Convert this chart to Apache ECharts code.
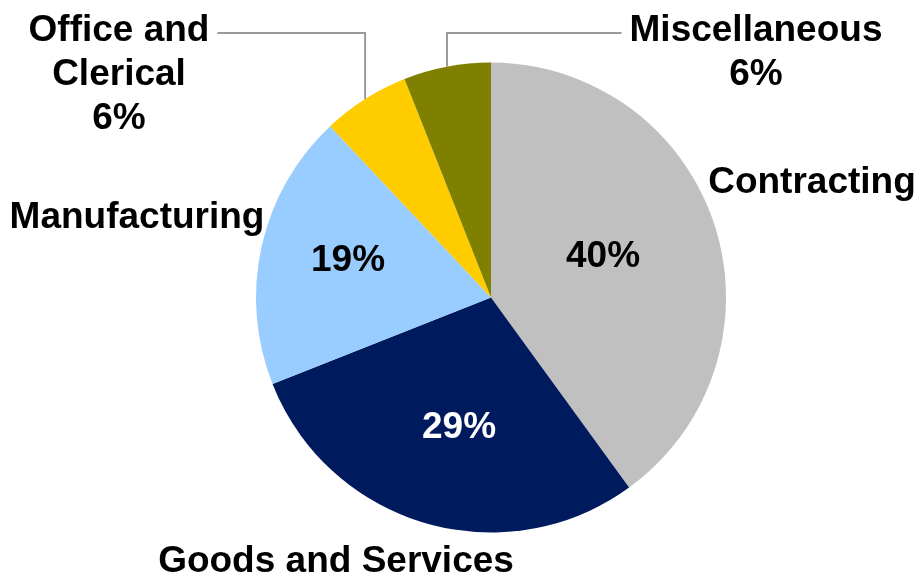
<!DOCTYPE html>
<html>
<head>
<meta charset="utf-8">
<title>Share by category</title>
<script src="https://cdn.jsdelivr.net/npm/echarts@6/dist/echarts.min.js"></script>
<style>
  html, body { margin: 0; padding: 0; background: #ffffff; }
  #chart { width: 922px; height: 575px; }
</style>
</head>
<body>
<div id="chart"></div>
<script>
// Category names (line breaks as shown in the labels) and their shares in percent
const categories = ['Contracting', 'Goods and Services', 'Manufacturing', 'Office and\nClerical', 'Miscellaneous'];
const shares = [40, 29, 19, 6, 6];

// Slice colours, in category order
const sliceColors = ['#C0C0C0', '#001A5E', '#99CCFF', '#FFCC00', '#808000'];

// Which categories show the percentage inside the slice (the others show it beside the name)
const insidePercent = [true, true, true, false, false];
const percentColors = ['#000000', '#ffffff', '#000000', '#000000', '#000000'];

// Label placement (pixel centres of the text blocks)
const percentSpots = [[603, 257], [459, 428], [348, 261], null, null];
const nameSpots = [[812, 183], [336, 562], [137, 218], [119, 74.5], [756, 53]];
const leaderY = 33;     // height of the horizontal part of the leader lines
const leaderGap = 8;    // gap between a leader line and its text

const FONT = '"Liberation Sans", Arial, Helvetica, sans-serif';
const PIE_CENTER = [491, 297.5];
const PIE_RADIUS = 235;

const chart = echarts.init(document.getElementById('chart'), null, { renderer: 'canvas' });

const sliceData = categories.map((name, i) => ({
  name: name,
  value: shares[i],
  itemStyle: { color: sliceColors[i] },
  label: {
    show: insidePercent[i],
    color: percentColors[i]
  }
}));

const nameData = categories.map((name, i) => ({
  name: name,
  value: shares[i],
  labelLine: { show: !insidePercent[i] }
}));

chart.setOption({
  backgroundColor: '#ffffff',
  animation: false,
  series: [
    {
      // the slices, with percentages inside
      type: 'pie',
      center: PIE_CENTER,
      radius: PIE_RADIUS,
      startAngle: 90,
      clockwise: true,
      silent: true,
      emphasis: { disabled: true },
      itemStyle: { borderWidth: 0 },
      label: {
        position: 'inside',
        fontFamily: FONT,
        fontWeight: 'bold',
        fontSize: 37,
        overflow: 'none',
        formatter: p => p.value + '%'
      },
      labelLine: { show: false },
      labelLayout: function (p) {
        const spot = percentSpots[p.dataIndex];
        if (!spot) return {};
        return { x: spot[0], y: spot[1], align: 'center', verticalAlign: 'middle' };
      },
      data: sliceData
    },
    {
      // transparent copy carrying the category names outside the pie
      type: 'pie',
      center: PIE_CENTER,
      radius: PIE_RADIUS,
      startAngle: 90,
      clockwise: true,
      silent: true,
      emphasis: { disabled: true },
      itemStyle: { color: 'rgba(0,0,0,0)', borderWidth: 0 },
      label: {
        position: 'outside',
        color: '#000000',
        fontFamily: FONT,
        fontWeight: 'bold',
        fontSize: 37,
        lineHeight: 44,
        align: 'center',
        overflow: 'none',
        formatter: function (p) {
          return insidePercent[p.dataIndex] ? p.name : p.name + '\n' + p.value + '%';
        }
      },
      labelLine: {
        length: 10,
        length2: 10,
        lineStyle: { color: '#9A9A9A', width: 2 }
      },
      labelLayout: function (p) {
        const i = p.dataIndex;
        const spot = nameSpots[i];
        const out = { x: spot[0], y: spot[1], align: 'center', verticalAlign: 'middle' };
        if (!insidePercent[i] && p.labelLinePoints) {
          const start = p.labelLinePoints[0];
          const halfW = p.labelRect.width / 2;
          // run up from the slice edge, then across towards the text
          const endX = start[0] < spot[0]
            ? spot[0] - halfW - leaderGap
            : spot[0] + halfW + leaderGap;
          out.labelLinePoints = [
            [start[0], start[1]],
            [start[0], leaderY],
            [endX, leaderY]
          ];
        }
        return out;
      },
      data: nameData
    }
  ]
});
</script>
</body>
</html>
